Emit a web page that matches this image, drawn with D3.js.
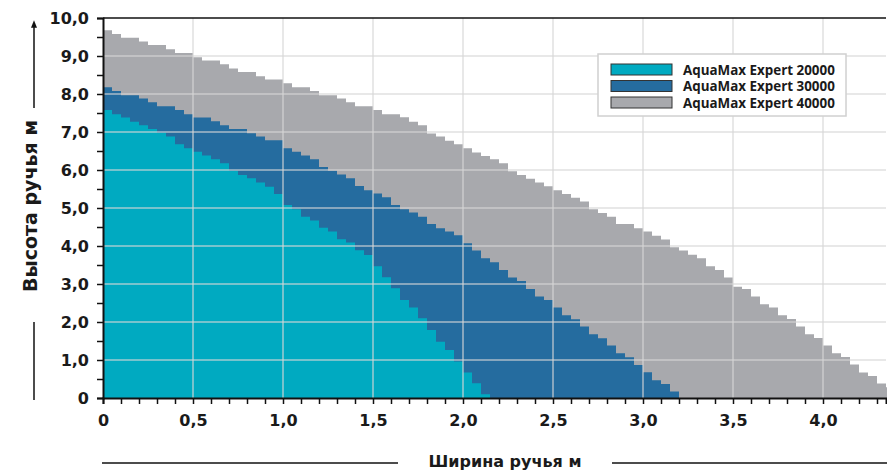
<!DOCTYPE html>
<html>
<head>
<meta charset="utf-8">
<script src="https://cdn.jsdelivr.net/npm/d3@7"></script>
<style>
  body { margin: 0; background: #fff; }
  .tick text { font-family: "DejaVu Sans", sans-serif; font-weight: bold; font-size: 16px; fill: #1a1a1a; }
  .title { font-family: "DejaVu Sans", sans-serif; font-weight: bold; fill: #1a1a1a; }
  .legend text { font-family: "Open Sans", sans-serif; font-weight: 700; font-size: 13.4px; fill: #1a1a1a; }
</style>
</head>
<body>
<div id="chart"></div>
<script>
// step width of every bar of the staircase (m)
var stepWidth = 0.05;

var seriesNames = ["AquaMax Expert 20000", "AquaMax Expert 30000", "AquaMax Expert 40000"];
var seriesColors = ["#00aac1", "#256c9f", "#a8a9ad"];

// height (m) for each 0,05 m step of stream width
var expert20000 = [7.58, 7.47, 7.38, 7.27, 7.18, 7.08, 6.98, 6.88, 6.68, 6.57, 6.48, 6.38, 6.28, 6.18, 5.98, 5.87,
    5.78, 5.67, 5.56, 5.37, 5.08, 4.97, 4.77, 4.67, 4.48, 4.38, 4.18, 4.09, 3.89, 3.76, 3.47, 3.18,
    2.89, 2.58, 2.38, 2.10, 1.79, 1.48, 1.26, 0.96, 0.67, 0.39, 0.10];

var expert30000 = [8.18, 8.08, 7.97, 7.97, 7.88, 7.78, 7.68, 7.68, 7.58, 7.47, 7.38, 7.38, 7.28, 7.18, 7.08, 7.08,
    6.97, 6.88, 6.78, 6.78, 6.57, 6.48, 6.38, 6.28, 6.08, 5.98, 5.88, 5.78, 5.58, 5.47, 5.38, 5.28,
    5.08, 4.97, 4.88, 4.77, 4.58, 4.47, 4.38, 4.28, 4.07, 3.88, 3.68, 3.57, 3.37, 3.17, 3.08, 2.87,
    2.67, 2.58, 2.38, 2.18, 2.07, 1.88, 1.68, 1.57, 1.38, 1.18, 1.07, 0.87, 0.68, 0.47, 0.37, 0.17];

var expert40000 = [9.68, 9.58, 9.48, 9.48, 9.38, 9.29, 9.29, 9.18, 9.08, 9.08, 8.97, 8.88, 8.88, 8.78, 8.67, 8.58,
    8.58, 8.47, 8.38, 8.38, 8.28, 8.18, 8.18, 8.08, 7.97, 7.97, 7.88, 7.78, 7.68, 7.68, 7.58, 7.47,
    7.47, 7.39, 7.27, 7.18, 6.96, 6.88, 6.77, 6.68, 6.57, 6.46, 6.37, 6.28, 6.18, 5.97, 5.87, 5.77,
    5.67, 5.57, 5.47, 5.37, 5.27, 5.17, 4.97, 4.87, 4.77, 4.58, 4.58, 4.47, 4.38, 4.27, 4.17, 3.97,
    3.88, 3.77, 3.68, 3.47, 3.37, 3.17, 2.93, 2.87, 2.67, 2.47, 2.38, 2.18, 2.08, 1.88, 1.68, 1.58,
    1.38, 1.18, 1.08, 0.88, 0.67, 0.58, 0.38, 0.28];

var xTickValues = [0, 0.5, 1.0, 1.5, 2.0, 2.5, 3.0, 3.5, 4.0];
var xTickLabels = ["0", "0,5", "1,0", "1,5", "2,0", "2,5", "3,0", "3,5", "4,0"];
var yTickValues = [0, 1, 2, 3, 4, 5, 6, 7, 8, 9, 10];
var yTickLabels = ["0", "1,0", "2,0", "3,0", "4,0", "5,0", "6,0", "7,0", "8,0", "9,0", "10,0"];

function drawChart() {
    var w = 887;
    var h = 471;
    var padLeft = 103, padRight = 886, padTop = 18, padBottom = 398;

    var svg = d3.select("#chart").append("svg")
        .attr("width", w)
        .attr("height", h);

    var xScale = d3.scaleLinear().domain([0, 4.35]).range([padLeft, padRight]);
    var yScale = d3.scaleLinear().domain([0, 10]).range([padBottom, padTop]);

    // turn a list of heights into step points (one extra point closes the last step)
    function toSteps(values) {
        var pts = values.map(function (v, i) { return { x: i * stepWidth, y: v }; });
        pts.push({ x: values.length * stepWidth, y: values[values.length - 1] });
        return pts;
    }

    var area = d3.area()
        .curve(d3.curveStepAfter)
        .x(d => xScale(d.x))
        .y0(yScale(0))
        .y1(d => yScale(d.y));

    /* AREAS (largest first) */
    var allSeries = [expert40000, expert30000, expert20000];
    var allColors = [seriesColors[2], seriesColors[1], seriesColors[0]];
    allSeries.forEach(function (s, i) {
        svg.append("path")
            .datum(toSteps(s))
            .attr("d", area)
            .attr("fill", allColors[i]);
    });

    /* GRID on top of the areas */
    svg.append("g")
        .selectAll("line")
        .data(xTickValues.slice(1))
        .enter().append("line")
        .attr("x1", d => xScale(d)).attr("x2", d => xScale(d))
        .attr("y1", padTop).attr("y2", padBottom)
        .attr("stroke", "#d6d6d6").attr("stroke-opacity", 0.75).attr("stroke-width", 1.5);

    svg.append("g")
        .selectAll("line")
        .data(yTickValues.slice(1, 10))
        .enter().append("line")
        .attr("x1", padLeft).attr("x2", padRight)
        .attr("y1", d => yScale(d)).attr("y2", d => yScale(d))
        .attr("stroke", "#d6d6d6").attr("stroke-opacity", 0.75).attr("stroke-width", 1.5);

    /* AXES */
    var xAxis = d3.axisBottom(xScale)
        .tickValues(d3.range(0, 44).map(i => i / 10))
        .tickSize(6)
        .tickFormat(function (d) {
            var k = xTickValues.findIndex(v => Math.abs(v - d) < 1e-6);
            return k >= 0 ? xTickLabels[k] : "";
        });

    var gx = svg.append("g")
        .attr("transform", "translate(0," + padBottom + ")")
        .call(xAxis);
    gx.select(".domain").attr("stroke", "#111").attr("stroke-width", 2);
    gx.selectAll(".tick line").attr("stroke", "#111").attr("stroke-width", 1.5);
    gx.selectAll(".tick text").attr("y", 17);

    var yAxis = d3.axisLeft(yScale)
        .tickValues(d3.range(0, 21).map(i => i / 2))
        .tickSize(6)
        .tickFormat(function (d) {
            var k = yTickValues.indexOf(d);
            return k >= 0 ? yTickLabels[k] : "";
        });

    var gy = svg.append("g")
        .attr("transform", "translate(" + padLeft + ",0)")
        .call(yAxis);
    gy.select(".domain").attr("stroke", "#111").attr("stroke-width", 2);
    gy.selectAll(".tick line").attr("stroke", "#111").attr("stroke-width", 1.5);
    gy.selectAll(".tick text").attr("x", -14);

    // top frame line
    svg.append("line")
        .attr("x1", padLeft).attr("x2", padRight)
        .attr("y1", padTop).attr("y2", padTop)
        .attr("stroke", "#111").attr("stroke-width", 1.5);

    /* LEGEND */
    var legend = svg.append("g").attr("class", "legend");
    legend.append("rect")
        .attr("x", 598).attr("y", 54).attr("width", 248).attr("height", 62)
        .attr("fill", "#fff").attr("stroke", "#d0d0d0").attr("stroke-width", 1.5);

    seriesNames.forEach(function (name, i) {
        legend.append("rect")
            .attr("x", 611).attr("y", 64 + i * 16.5).attr("width", 61).attr("height", 11)
            .attr("fill", seriesColors[i]).attr("stroke", "#333").attr("stroke-width", 1);
        legend.append("text")
            .attr("x", 683).attr("y", 74.5 + i * 16.5)
            .text(name);
    });

    /* AXIS TITLES */
    svg.append("text")
        .attr("class", "title")
        .attr("transform", "translate(37,206) rotate(-90)")
        .style("text-anchor", "middle")
        .style("font-size", "19px")
        .text("Высота ручья м");

    svg.append("defs").append("marker")
        .attr("id", "arrow")
        .attr("viewBox", "0 0 10 10")
        .attr("refX", 5).attr("refY", 5)
        .attr("markerWidth", 5).attr("markerHeight", 6)
        .attr("orient", "auto")
        .append("path").attr("d", "M0,1 L10,5 L0,9 Z").attr("fill", "#111");

    svg.append("line")
        .attr("x1", 34).attr("x2", 34).attr("y1", 108).attr("y2", 24)
        .attr("stroke", "#111").attr("stroke-width", 1.5)
        .attr("marker-end", "url(#arrow)");

    svg.append("line")
        .attr("x1", 34).attr("x2", 34).attr("y1", 322).attr("y2", 400)
        .attr("stroke", "#111").attr("stroke-width", 1.5);

    svg.append("text")
        .attr("class", "title")
        .attr("x", 505).attr("y", 467)
        .style("text-anchor", "middle")
        .style("font-size", "16px")
        .text("Ширина ручья м");

    svg.append("line")
        .attr("x1", 102).attr("x2", 398).attr("y1", 463).attr("y2", 463)
        .attr("stroke", "#111").attr("stroke-width", 1.5);
    svg.append("line")
        .attr("x1", 612).attr("x2", 887).attr("y1", 463).attr("y2", 463)
        .attr("stroke", "#111").attr("stroke-width", 1.5);
}

drawChart();
</script>
</body>
</html>
